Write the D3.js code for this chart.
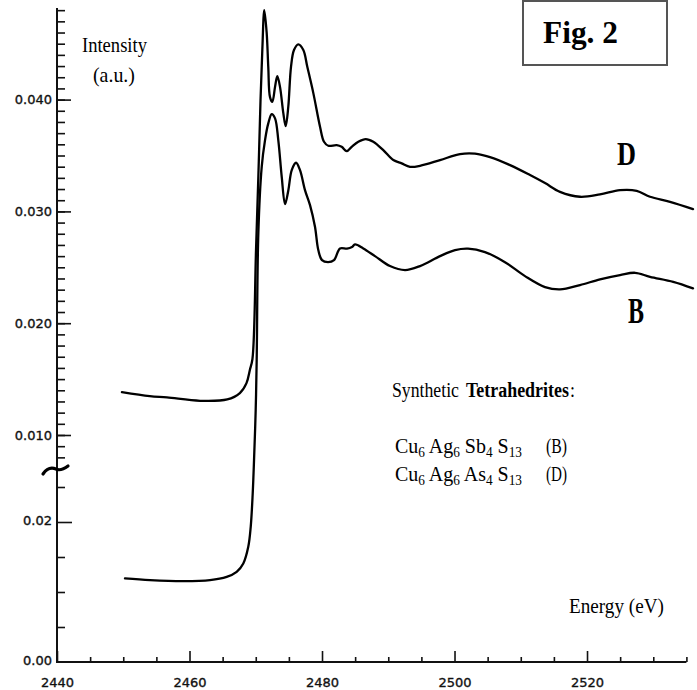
<!DOCTYPE html>
<html>
<head>
<meta charset="utf-8">
<script src="https://cdn.jsdelivr.net/npm/d3@7/dist/d3.min.js"></script>
<style>
  html, body { margin: 0; padding: 0; background: #fff; }
  svg { display: block; }
</style>
</head>
<body>
<svg id="chart" width="697" height="690"></svg>
<script>
// ---------------- DATA ----------------
// Energy (eV) and intensity (a.u., on the upper axis scale) for curve D (Cu6Ag6As4S13)
const energyD = [2449.8, 2454.0, 2456.6, 2461.6, 2465.7, 2467.6, 2468.6, 2469.1, 2469.5, 2470.04, 2470.42, 2470.72, 2470.99, 2471.29,
  2471.65, 2471.89, 2472.15, 2472.50, 2472.91, 2473.25, 2473.66, 2474.16, 2474.52, 2474.91, 2475.32, 2475.77,
  2476.42, 2477.18, 2477.78, 2478.69, 2479.70, 2480.30, 2480.95, 2482.22, 2482.97, 2483.73, 2484.48, 2485.48,
  2486.60, 2487.74, 2489.25, 2490.76, 2492.03, 2493.28, 2494.79, 2497.81, 2500.83, 2503.09, 2505.36, 2508.38,
  2511.40, 2513.66, 2515.92, 2518.94, 2521.96, 2524.98, 2527.50, 2529.51, 2532.53, 2536.0];
const intensityD = [0.01384, 0.01348, 0.01336, 0.01306, 0.01318, 0.01375, 0.01464, 0.01580, 0.01680, 0.02654, 0.03369, 0.03996, 0.04443, 0.04801,
  0.04595, 0.04291, 0.04022, 0.03980, 0.04114, 0.04210, 0.04114, 0.03879, 0.03763, 0.03936, 0.04293, 0.04443,
  0.04494, 0.04443, 0.04293, 0.04058, 0.03757, 0.03623, 0.03587, 0.03593, 0.03578, 0.03539, 0.03578, 0.03623,
  0.03647, 0.03623, 0.03548, 0.03459, 0.03429, 0.03399, 0.03408, 0.03459, 0.03513, 0.03517, 0.03486, 0.03414,
  0.03325, 0.03253, 0.03175, 0.03131, 0.03152, 0.03190, 0.03184, 0.03131, 0.03086, 0.03021];

// Curve B (Cu6Ag6Sb4S13)
const energyB = [2450.26, 2454.04, 2459.06, 2463.09, 2465.61, 2467.12, 2468.12, 2468.87, 2469.24, 2469.54, 2469.74, 2469.99, 2470.14,
  2470.39, 2470.90, 2471.40, 2471.89, 2472.41, 2472.91, 2473.40, 2473.92, 2474.42, 2474.92, 2475.43, 2476.08,
  2476.68, 2477.43, 2478.19, 2478.94, 2479.44, 2480.0, 2480.91, 2481.81, 2482.72, 2483.77, 2484.53, 2484.98,
  2486.23, 2488.0, 2490.26, 2492.53, 2494.79, 2497.81, 2500.08, 2502.04, 2504.60, 2507.62, 2510.64, 2513.66,
  2515.92, 2518.94, 2521.96, 2524.98, 2527.25, 2529.51, 2533.02, 2536.0];
const intensityB = [-0.00283, -0.00298, -0.00307, -0.00298, -0.00269, -0.00224, -0.00149, 0.00000, 0.00179, 0.00477, 0.00775, 0.01223, 0.01670,
  0.02806, 0.03399, 0.03638, 0.03787, 0.03870, 0.03832, 0.03638, 0.03309, 0.03065, 0.03190, 0.03369, 0.03435,
  0.03369, 0.03190, 0.03056, 0.02862, 0.02654, 0.02564, 0.02546, 0.02564, 0.02669, 0.02667, 0.02681, 0.02705,
  0.02669, 0.02600, 0.02511, 0.02475, 0.02511, 0.02600, 0.02654, 0.02667, 0.02636, 0.02546, 0.02421, 0.02323,
  0.02302, 0.02341, 0.02392, 0.02430, 0.02451, 0.02415, 0.02370, 0.02311];

// Tick labels
const xTickValues = [2440, 2460, 2480, 2500, 2520];
const yUpperTickValues = [0.040, 0.030, 0.020, 0.010];
const yUpperTickLabels = ["0.040", "0.030", "0.020", "0.010"];
const yLowerTickValues = [0.02, 0.00];
const yLowerTickLabels = ["0.02", "0.00"];

// ---------------- DRAWING ----------------
const svg = d3.select("#chart");
const serif = "'Liberation Serif', 'Times New Roman', serif";
const sans = "'DejaVu Sans', sans-serif";

const x = d3.scaleLinear().domain([2440, 2535]).range([57, 686.4]);
const yU = d3.scaleLinear().domain([0.010, 0.040]).range([435, 99.6]);
const yL = d3.scaleLinear().domain([0, 0.025]).range([662, 487]);

const axisColor = "#111";

// Axis lines
svg.append("line").attr("x1", 57).attr("x2", 57).attr("y1", 8).attr("y2", 662)
  .attr("stroke", axisColor).attr("stroke-width", 2);
svg.append("line").attr("x1", 56).attr("x2", x(2535)).attr("y1", 662).attr("y2", 662)
  .attr("stroke", axisColor).attr("stroke-width", 2);

function styleAxis(g) {
  g.select(".domain").remove();
  g.selectAll(".tick line").attr("stroke", axisColor).attr("stroke-width", 1.6);
  g.selectAll(".tick text").attr("font-family", sans).attr("font-size", 13).attr("fill", "#111")
    .attr("stroke", "#111").attr("stroke-width", 0.35);
}

// Upper y segment: minor ticks every 0.001
const upperMinor = d3.range(8, 49).map(d => d / 1000);
svg.append("g").attr("transform", "translate(57,0)")
  .call(d3.axisLeft(yU).tickValues(upperMinor).tickSizeInner(-8).tickSizeOuter(0).tickFormat(""))
  .call(styleAxis);
// Upper major ticks with labels
svg.append("g").attr("transform", "translate(57,0)")
  .call(d3.axisLeft(yU).tickValues(yUpperTickValues).tickSizeInner(-14).tickSizeOuter(0).tickPadding(5)
    .tickFormat((d, i) => yUpperTickLabels[i]))
  .call(styleAxis);

// Lower y segment
svg.append("g").attr("transform", "translate(57,0)")
  .call(d3.axisLeft(yL).tickValues([0.005, 0.010, 0.015, 0.025]).tickSizeInner(-8).tickSizeOuter(0).tickFormat(""))
  .call(styleAxis);
svg.append("g").attr("transform", "translate(57,0)")
  .call(d3.axisLeft(yL).tickValues(yLowerTickValues).tickSizeInner(-15).tickSizeOuter(0).tickPadding(5)
    .tickFormat((d, i) => yLowerTickLabels[i]))
  .call(styleAxis)
  .call(g => g.selectAll(".tick").filter(d => d === 0).select("line").remove())
  .call(g => g.selectAll(".tick text").attr("dy", "0.2em"));

// Axis break mark
svg.append("path")
  .attr("d", "M43,474 C47,468 51,467 56,469 C60,471 64,469 68,466")
  .attr("fill", "none").attr("stroke", "#000").attr("stroke-width", 3.2).attr("stroke-linecap", "round");

// X axis ticks
const xMinor = d3.range(2445, 2536, 5).filter(d => d % 20 !== 0);
svg.append("g").attr("transform", "translate(0,662)")
  .call(d3.axisBottom(x).tickValues(xMinor).tickSizeInner(-5).tickSizeOuter(0).tickFormat(""))
  .call(styleAxis);
svg.append("g").attr("transform", "translate(0,662)")
  .call(d3.axisBottom(x).tickValues(xTickValues).tickSizeInner(-11).tickSizeOuter(0).tickPadding(16)
    .tickFormat(d3.format("d")))
  .call(styleAxis);

// Curves
const line = d3.line().curve(d3.curveCatmullRom.alpha(0.5)).x(d => x(d[0])).y(d => yU(d[1]));
const dataD = energyD.map((e, i) => [e, intensityD[i]]);
const dataB = energyB.map((e, i) => [e, intensityB[i]]);
[dataD, dataB].forEach(dat => {
  svg.append("path").datum(dat).attr("d", line)
    .attr("fill", "none").attr("stroke", "#000").attr("stroke-width", 2.3)
    .attr("stroke-linejoin", "round").attr("stroke-linecap", "round");
});

// helper for horizontally condensed serif text (scaled so its box is honest)
function fitText(t, xp, yp, len) {
  const w = t.node().getComputedTextLength();
  const sx = w > 0 ? len / w : 1;
  t.attr("transform", `translate(${xp},${yp}) scale(${sx},1)`);
  return t;
}
function label(xp, yp, txt, size, len, bold) {
  const t = svg.append("text").attr("x", 0).attr("y", 0).attr("font-family", serif).attr("font-size", size)
    .attr("font-weight", bold ? "bold" : "normal").attr("fill", "#000").text(txt);
  return fitText(t, xp, yp, len);
}

// Axis titles
label(82, 52, "Intensity", 21, 65, false);
label(93, 82, "(a.u.)", 21, 42, false);
label(569, 613, "Energy (eV)", 21, 95, false);

// Fig. 2 box
svg.append("rect").attr("x", 523).attr("y", 1).attr("width", 144).attr("height", 64)
  .attr("fill", "none").attr("stroke", "#555").attr("stroke-width", 2);
label(543, 43, "Fig. 2", 31, 75, true);

// Curve labels
label(617, 165, "D", 34, 19, true);
label(628, 323, "B", 36, 16, true);

// Legend text
label(392, 397, "Synthetic", 22, 67, false);
label(466, 397, "Tetrahedrites", 22, 103, true);
label(570, 397, ":", 22, 5, false);

function formula(y, parts, tag) {
  const t = svg.append("text").attr("x", 0).attr("y", 0).attr("font-family", serif).attr("font-size", 21).attr("fill", "#000");
  parts.forEach(([el, sub], i) => {
    t.append("tspan").attr("dy", i > 0 ? -4 : 0).text((i > 0 ? " " : "") + el);
    t.append("tspan").attr("font-size", 14).attr("dy", 4).text(sub);
  });
  fitText(t, 395, y, 127);
  label(546, y, tag, 21, 21, false);
}
formula(453, [["Cu", "6"], ["Ag", "6"], ["Sb", "4"], ["S", "13"]], "(B)");
formula(481, [["Cu", "6"], ["Ag", "6"], ["As", "4"], ["S", "13"]], "(D)");
</script>
</body>
</html>
